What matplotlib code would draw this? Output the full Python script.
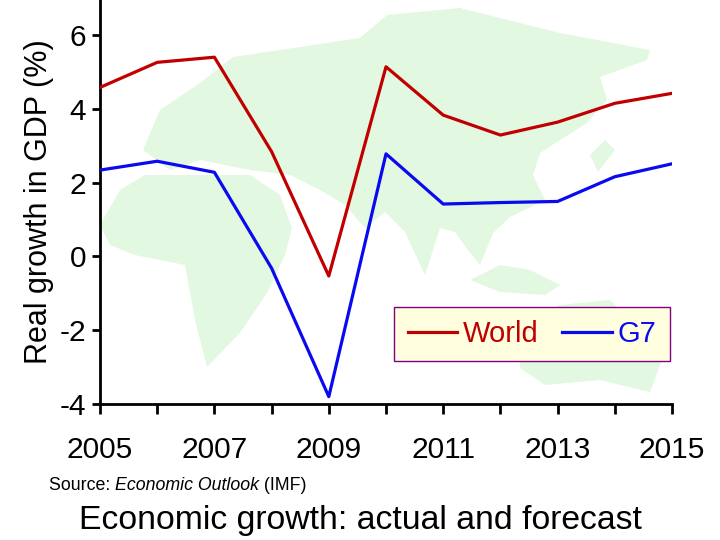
import matplotlib
matplotlib.use("Agg")
import matplotlib.pyplot as plt
from matplotlib.patches import Polygon
from matplotlib.ticker import MultipleLocator

plt.rcParams['font.family'] = ['Liberation Sans', 'DejaVu Sans']

years = [2005, 2006, 2007, 2008, 2009, 2010, 2011, 2012, 2013, 2014, 2015]
world = [4.58, 5.26, 5.40, 2.84, -0.53, 5.14, 3.83, 3.29, 3.64, 4.15, 4.42]
g7 = [2.34, 2.58, 2.28, -0.32, -3.80, 2.78, 1.42, 1.46, 1.49, 2.16, 2.51]
year_labels = [2005, 2007, 2009, 2011, 2013, 2015]
y_ticks = [-4, -2, 0, 2, 4, 6]

W, H = 720, 540
fig = plt.figure(figsize=(7.2, 5.4), dpi=100)
ax = fig.add_axes([100/W, 1-404/H, 572/W, 404/H])

# rough light green world map behind the lines (figure pixel outlines)
land = [
    # eurasia
    [(143, 150), (160, 110), (200, 83), (233, 57), (300, 47), (360, 38), (387, 15), (460, 8),
     (560, 33), (650, 50), (647, 60), (600, 77), (607, 100), (587, 123), (560, 140), (540, 153),
     (533, 175), (545, 200), (510, 217), (493, 233), (480, 265), (468, 250), (455, 232),
     (440, 228), (425, 275), (405, 232), (385, 212), (365, 228), (345, 205), (320, 190),
     (290, 175), (250, 170), (200, 160), (170, 170)],
    # africa
    [(100, 225), (120, 190), (145, 175), (250, 175), (280, 195), (292, 228), (285, 255),
     (267, 293), (240, 333), (207, 367), (195, 320), (185, 265), (135, 255), (110, 245)],
    # australia
    [(520, 325), (560, 305), (610, 300), (640, 330), (662, 360), (650, 392), (600, 380),
     (545, 385), (520, 368)],
    # islands
    [(470, 280), (500, 265), (530, 270), (560, 285), (545, 295), (500, 292)],
    [(590, 155), (605, 140), (615, 150), (598, 172)],
]
for pts in land:
    poly = Polygon([(x/W, 1-y/H) for x, y in pts], closed=True, transform=fig.transFigure,
                   facecolor='#e3f8e0', edgecolor='none', zorder=0)
    poly.set_clip_path(ax.patch)
    ax.add_patch(poly)

ax.plot(years, world, color='#c00000', lw=2.3, label='World', zorder=3)
ax.plot(years, g7, color='#0a0af0', lw=2.3, label='G7', zorder=3)

ax.set_xlim(2005, 2015)
ax.set_ylim(-4, 6.95)
ax.set_xticks(year_labels)
ax.xaxis.set_minor_locator(MultipleLocator(1))
ax.set_yticks(y_ticks)
ax.set_yticklabels([str(v) for v in y_ticks])

for s in ['top', 'right']:
    ax.spines[s].set_visible(False)
for s in ['left', 'bottom']:
    ax.spines[s].set_linewidth(2)
ax.patch.set_alpha(0)

ax.tick_params(axis='x', which='both', direction='out', length=7, width=2, labelsize=21.5, pad=16)
ax.tick_params(axis='y', direction='out', length=6, width=2, labelsize=21.5, pad=4)
ax.set_ylabel('Real growth in GDP (%)', fontsize=22, labelpad=4)

leg = fig.legend(loc='center', bbox_to_anchor=(532/W, 1-334/H), ncol=2, fontsize=21,
                 frameon=True, fancybox=False, handlelength=1.7, handletextpad=0.2,
                 columnspacing=0.8, borderpad=0.45, labelcolor='linecolor')
leg.get_frame().set_facecolor('#ffffe0')
leg.get_frame().set_edgecolor('#800080')
leg.get_frame().set_linewidth(1)
leg.get_frame().set_alpha(1)

# source line with italic title
fig.canvas.draw()
r = fig.canvas.get_renderer()
x0 = 49 / W
yy = 1 - 485 / H
for txt, style in [('Source: ', 'normal'), ('Economic Outlook', 'italic'), (' (IMF)', 'normal')]:
    t = fig.text(x0, yy, txt, fontsize=12.8, style=style, va='center', ha='left')
    bb = t.get_window_extent(renderer=r)
    x0 += bb.width / W

fig.text(0.5 + 0.5/W, 1 - 521 / H, 'Economic growth: actual and forecast', fontsize=24.3,
         ha='center', va='center')

fig.savefig('out.png', dpi=100)
